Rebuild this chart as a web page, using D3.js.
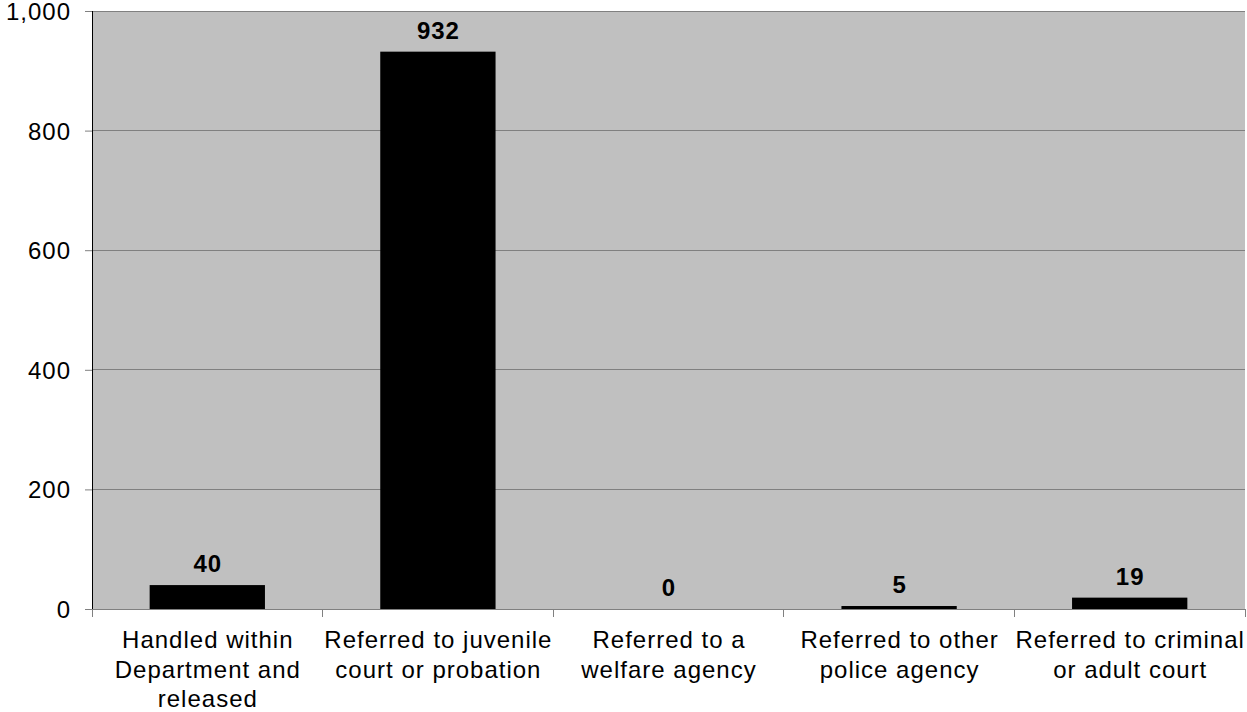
<!DOCTYPE html>
<html><head><meta charset="utf-8">
<script src="https://cdn.jsdelivr.net/npm/d3@7"></script>
<style>body{margin:0;background:#fff;} text{font-family:Arial,"Liberation Sans",sans-serif;}</style>
</head><body>
<svg id="c" width="1247" height="712"></svg>
<script>
const categories = [
  ["Handled within","Department and","released"],
  ["Referred to juvenile","court or probation"],
  ["Referred to a","welfare agency"],
  ["Referred to other","police agency"],
  ["Referred to criminal","or adult court"]
];
const values = [40, 932, 0, 5, 19];
const yTicks = [0, 200, 400, 600, 800, 1000];

const svg = d3.select("#c");
const L = 92, R = 1245, T = 11, B = 609;
const FS = "24px";
const x = d3.scaleBand().domain(d3.range(values.length)).range([L, R]).paddingInner(0.5).paddingOuter(0.25);
const y = d3.scaleLinear().domain([0, 1000]).range([B, T]);

svg.append("rect").attr("x", L).attr("y", T).attr("width", R - L).attr("height", B - T).attr("fill", "#C0C0C0");

// gridlines
svg.selectAll(".grid").data(yTicks.filter(d => d > 0)).enter().append("line")
  .attr("x1", L).attr("x2", R).attr("y1", d => y(d)).attr("y2", d => y(d))
  .attr("stroke", "#808080").attr("stroke-width", 1).attr("shape-rendering", "crispEdges");

// bars
svg.selectAll(".bar").data(values).enter().append("rect")
  .attr("x", (d, i) => x(i)).attr("width", x.bandwidth())
  .attr("y", d => y(d)).attr("height", d => B - y(d)).attr("fill", "#000");

// value labels
svg.selectAll(".vl").data(values).enter().append("text")
  .attr("x", (d, i) => x(i) + x.bandwidth() / 2 + 0.5).attr("y", d => y(d) - 13)
  .attr("text-anchor", "middle").attr("font-size", FS).attr("font-weight", "bold")
  .attr("letter-spacing", "1px")
  .text(d => d3.format(",")(d));

// y axis
const ya = svg.append("g").attr("transform", `translate(${L},0)`)
  .call(d3.axisLeft(y).tickValues(yTicks).tickFormat(d3.format(",")).tickSize(7).tickPadding(14));
ya.select(".domain").remove();
ya.selectAll(".tick line").attr("stroke", "#808080");
ya.selectAll(".tick text").attr("font-size", FS).attr("fill", "#000")
  .attr("font-family", "Arial, 'Liberation Sans', sans-serif").attr("dy", "0.35em").attr("letter-spacing", "1px");
svg.append("line").attr("x1", L).attr("x2", L).attr("y1", T).attr("y2", B).attr("stroke", "#000").attr("shape-rendering", "crispEdges");

// bottom axis line and category ticks
svg.append("line").attr("x1", L - 7).attr("x2", R).attr("y1", B).attr("y2", B).attr("stroke", "#808080").attr("shape-rendering", "crispEdges");
const bounds = d3.range(values.length + 1).map(i => L + i * (R - L) / values.length);
svg.selectAll(".ct").data(bounds).enter().append("line")
  .attr("x1", d => d).attr("x2", d => d).attr("y1", B).attr("y2", B + 8)
  .attr("stroke", "#808080").attr("shape-rendering", "crispEdges");

// category labels
const cl = svg.selectAll(".cl").data(categories).enter().append("text")
  .attr("text-anchor", "middle").attr("font-size", FS).attr("fill", "#000").attr("letter-spacing", "1px")
  .attr("transform", (d, i) => `translate(${x(i) + x.bandwidth() / 2 + 0.5},648)`);
cl.selectAll("tspan").data(d => d).enter().append("tspan")
  .attr("x", 0).attr("dy", (d, i) => i === 0 ? 0 : 29.5).text(d => d);
</script>
</body></html>
